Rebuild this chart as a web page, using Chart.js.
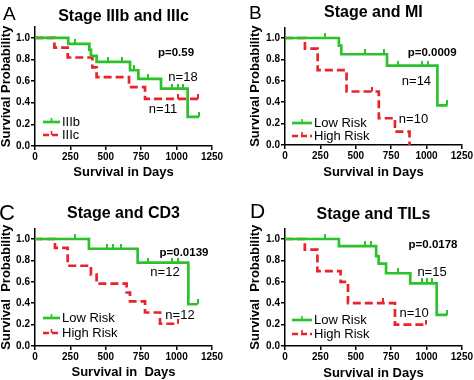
<!DOCTYPE html>
<html><head><meta charset="utf-8">
<script src="https://cdn.jsdelivr.net/npm/chart.js@4/dist/chart.umd.min.js"></script>
<style>
body{margin:0;background:#fff;width:474px;height:380px;overflow:hidden;position:relative}
.p{position:absolute;width:237px;height:190px}
canvas{display:block}
</style></head><body>
<div class="p" style="left:0;top:0"><canvas id="cA" width="237" height="190"></canvas></div>
<div class="p" style="left:237px;top:0"><canvas id="cB" width="237" height="190"></canvas></div>
<div class="p" style="left:0;top:190px"><canvas id="cC" width="237" height="190"></canvas></div>
<div class="p" style="left:237px;top:190px"><canvas id="cD" width="237" height="190"></canvas></div>
<script>
// ---------- data ----------
const xTickValues = [0, 250, 500, 750, 1000, 1250];
const yTickValues = [0, 0.2, 0.4, 0.6, 0.8, 1.0];

// Panel A: Stage IIIb and IIIc
const aGreenTimes = [0, 235, 282, 384, 395, 435, 518, 612, 671, 700, 730, 800, 890, 965, 1012, 1047, 1078, 1158];
const aGreenSurv  = [1, 0.944, 0.944, 0.889, 0.833, 0.778, 0.778, 0.778, 0.70, 0.70, 0.62, 0.62, 0.53, 0.53, 0.53, 0.53, 0.27, 0.27];
const aGreenCens  = [0, 0, 1, 0, 0, 0, 1, 1, 0, 1, 0, 1, 0, 1, 1, 1, 0, 1];
const aRedTimes = [0, 137, 231, 405, 435, 664, 777, 1012, 1153];
const aRedSurv  = [1, 0.909, 0.818, 0.727, 0.636, 0.545, 0.436, 0.436, 0.436];
const aRedCens  = [0, 0, 0, 0, 0, 0, 0, 1, 1];

// Panel B: Stage and MI
const bGreenTimes = [0, 282, 381, 398, 562, 702, 721, 800, 965, 1012, 1077, 1148];
const bGreenSurv  = [1, 1, 0.929, 0.848, 0.848, 0.848, 0.742, 0.742, 0.742, 0.742, 0.371, 0.371];
const bGreenCens  = [0, 1, 0, 0, 1, 1, 0, 1, 1, 1, 0, 1];
const bRedTimes = [0, 141, 231, 435, 617, 663, 777, 880];
const bRedSurv  = [1, 0.9, 0.7, 0.5, 0.5, 0.25, 0.125, 0];
const bRedCens  = [0, 0, 0, 0, 1, 0, 0, 0];

// Panel C: Stage and CD3
const cGreenTimes = [0, 282, 381, 506, 553, 607, 725, 800, 965, 1012, 1083, 1148];
const cGreenSurv  = [1, 1, 0.909, 0.909, 0.909, 0.909, 0.779, 0.779, 0.779, 0.779, 0.39, 0.39];
const cGreenCens  = [0, 1, 0, 1, 1, 1, 0, 1, 1, 1, 0, 1];
const cRedTimes = [0, 141, 231, 395, 435, 647, 671, 777, 883, 1012];
const cRedSurv  = [1, 0.917, 0.75, 0.667, 0.583, 0.5, 0.417, 0.313, 0.208, 0.208];
const cRedCens  = [0, 0, 0, 0, 0, 0, 0, 0, 0, 1];

// Panel D: Stage and TILs
const dGreenTimes = [0, 281, 381, 562, 608, 644, 662, 714, 796, 885, 971, 1006, 1041, 1072, 1147];
const dGreenSurv  = [1, 1, 0.933, 0.933, 0.933, 0.84, 0.77, 0.68, 0.68, 0.586, 0.586, 0.586, 0.586, 0.29, 0.29];
const dGreenCens  = [0, 1, 0, 1, 1, 0, 0, 0, 1, 0, 1, 1, 1, 0, 1];
const dRedTimes = [0, 140, 229, 393, 445, 690, 777, 997];
const dRedSurv  = [1, 0.9, 0.7, 0.6, 0.4, 0.4, 0.2, 0.2];
const dRedCens  = [0, 0, 0, 0, 0, 1, 0, 1];

// ---------- drawing ----------
const FONT = "'Liberation Sans', Arial, Helvetica, sans-serif";
Chart.defaults.font.family = FONT;
Chart.defaults.color = '#000';
const GREEN = '#2cc22c', RED = '#e8232a';

// upward censor tick used as point style
function tickImage(color) {
  const c = document.createElement('canvas');
  c.width = 2; c.height = 10;
  const g = c.getContext('2d');
  g.fillStyle = color;
  g.fillRect(0, 0, 2, 5);
  return c;
}
const tickImg = { [GREEN]: tickImage(GREEN), [RED]: tickImage(RED) };

function ds(label, times, surv, cens, color, dash) {
  return {
    label, data: times.map((t, i) => ({x: t, y: surv[i]})),
    borderColor: color, backgroundColor: color, borderWidth: 2.7, borderDash: dash,
    stepped: 'before', fill: false,
    pointRadius: cens.map(c => c ? 3 : 0), pointStyle: tickImg[color],
    pointHoverRadius: 0
  };
}

const panelPlugin = {
  id: 'panel',
  afterDraw(chart, args, o) {
    const ctx = chart.ctx, ca = chart.chartArea;
    ctx.save();
    ctx.fillStyle = '#000';
    ctx.textBaseline = 'alphabetic';
    ctx.textAlign = 'left';
    ctx.font = `${o.letterSize}px ${FONT}`;
    ctx.fillText(o.letter, o.letterX, o.letterY);
    ctx.textAlign = 'center';
    ctx.font = `bold 16px ${FONT}`;
    ctx.fillText(o.title, (ca.left + ca.right) / 2, o.titleY);
    // legend
    chart.data.datasets.forEach((d, i) => {
      const y = o.legendY + i * o.legendGap;
      ctx.strokeStyle = d.borderColor;
      ctx.lineWidth = 2.7;
      ctx.setLineDash(d.borderDash.length ? [6, 3] : []);
      ctx.beginPath(); ctx.moveTo(o.legendX, y); ctx.lineTo(o.legendX + o.legendLen, y); ctx.stroke();
      ctx.setLineDash([]);
      ctx.lineWidth = 1.6;
      const mx = o.legendX + o.legendLen / 2;
      ctx.beginPath(); ctx.moveTo(mx, y - 4); ctx.lineTo(mx, y); ctx.stroke();
      ctx.font = `13px ${FONT}`;
      ctx.textAlign = 'left'; ctx.textBaseline = 'middle';
      ctx.fillText(d.label, o.legendX + o.legendLen + 2, y + 0.5);
    });
    // notes in data coordinates
    const xs = chart.scales.x, ys = chart.scales.y;
    o.notes.forEach(n => {
      ctx.font = n.bold ? `bold 11.5px ${FONT}` : `13px ${FONT}`;
      ctx.textAlign = 'center'; ctx.textBaseline = 'middle';
      ctx.fillText(n.text, xs.getPixelForValue(n.x), ys.getPixelForValue(n.y));
    });
    ctx.restore();
  }
};

function makeChart(id, p) {
  const L = p.area[0], T = p.area[1], R = p.area[2], B = p.area[3];
  return new Chart(document.getElementById(id), {
    type: 'line',
    data: { datasets: p.datasets },
    plugins: [panelPlugin],
    options: {
      responsive: false, animation: false, events: [],
      layout: { padding: { left: 0, top: T, right: 237 - R, bottom: 0 } },
      plugins: { legend: { display: false }, tooltip: { enabled: false }, title: { display: false }, panel: p.panel },
      scales: {
        x: {
          type: 'linear', min: 0, max: 1250,
          afterBuildTicks: s => { s.ticks = xTickValues.map(v => ({value: v})); },
          afterFit: s => { s.height = 190 - B; },
          ticks: { font: { size: 10, weight: 'bold' }, padding: 1, maxRotation: 0, autoSkip: false, color: '#000', callback: v => String(v) },
          grid: { drawOnChartArea: false, drawTicks: true, tickLength: 4, color: '#000', lineWidth: 1.5 },
          border: { display: true, color: '#000', width: 1.5 },
          title: { display: true, text: p.xTitle, font: { size: 13, weight: 'bold', lineHeight: 1 }, padding: { top: 0, bottom: p.xTitlePad }, color: '#000' }
        },
        y: {
          type: 'linear', min: 0, max: 1.1,
          afterBuildTicks: s => { s.ticks = yTickValues.map(v => ({value: v})); },
          afterFit: s => { s.width = L; },
          ticks: { font: { size: 10, weight: 'bold' }, padding: 1, color: '#000', callback: v => Number(v).toFixed(1) },
          grid: { drawOnChartArea: false, drawTicks: true, tickLength: 4, color: '#000', lineWidth: 1.5 },
          border: { display: true, color: '#000', width: 1.5 },
          title: { display: true, text: p.yTitle, font: { size: 13, weight: 'bold', lineHeight: 1 }, padding: { top: p.yTitlePad, bottom: 0 }, color: '#000' }
        }
      }
    }
  });
}

makeChart('cA', {
  area: [35, 27, 212, 146],
  datasets: [ds('IIIb', aGreenTimes, aGreenSurv, aGreenCens, GREEN, []), ds('IIIc', aRedTimes, aRedSurv, aRedCens, RED, [8, 4])],
  xTitle: 'Survival in Days', xTitlePad: 11, yTitle: 'Survival Probability', yTitlePad: 0,
  panel: { letter: 'A', letterSize: 19, letterX: 3, letterY: 20, title: 'Stage IIIb and IIIc', titleY: 21,
    legendX: 43, legendY: 122, legendGap: 13, legendLen: 17,
    notes: [{text: 'p=0.59', x: 996, y: 0.859, bold: true}, {text: 'n=18', x: 1045, y: 0.637}, {text: 'n=11', x: 904, y: 0.342}] }
});
makeChart('cB', {
  area: [48, 27.3, 227, 145],
  datasets: [ds('Low Risk', bGreenTimes, bGreenSurv, bGreenCens, GREEN, []), ds('High Risk', bRedTimes, bRedSurv, bRedCens, RED, [8, 4])],
  xTitle: 'Survival in Days', xTitlePad: 11, yTitle: 'Survival Probability', yTitlePad: 11.5,
  panel: { letter: 'B', letterSize: 19, letterX: 12, letterY: 19, title: 'Stage and MI', titleY: 17,
    legendX: 55, legendY: 123, legendGap: 13, legendLen: 20,
    notes: [{text: 'p=0.0009', x: 1040, y: 0.86, bold: true}, {text: 'n=14', x: 929, y: 0.598}, {text: 'n=10', x: 908, y: 0.243}] }
});
makeChart('cC', {
  area: [35, 38.3, 212, 156],
  datasets: [ds('Low Risk', cGreenTimes, cGreenSurv, cGreenCens, GREEN, []), ds('High Risk', cRedTimes, cRedSurv, cRedCens, RED, [8, 4])],
  xTitle: 'Survival in  Days', xTitlePad: 1, yTitle: 'Survival  Probability', yTitlePad: 0,
  panel: { letter: 'C', letterSize: 22, letterX: -1, letterY: 30, title: 'Stage and CD3', titleY: 28,
    legendX: 43, legendY: 128, legendGap: 15, legendLen: 17,
    notes: [{text: 'p=0.0139', x: 1052, y: 0.869, bold: true}, {text: 'n=12', x: 918, y: 0.692}, {text: 'n=12', x: 1024, y: 0.29}] }
});
makeChart('cD', {
  area: [48, 38.3, 226, 156],
  datasets: [ds('Low Risk', dGreenTimes, dGreenSurv, dGreenCens, GREEN, []), ds('High Risk', dRedTimes, dRedSurv, dRedCens, RED, [8, 4])],
  xTitle: 'Survival in Days', xTitlePad: 0, yTitle: 'Survival  Probability', yTitlePad: 11.5,
  panel: { letter: 'D', letterSize: 21, letterX: 13, letterY: 28, title: 'Stage and TILs', titleY: 29,
    legendX: 55, legendY: 130, legendGap: 14, legendLen: 20,
    notes: [{text: 'p=0.0178', x: 1046, y: 0.944, bold: true}, {text: 'n=15', x: 1039, y: 0.69}, {text: 'n=10', x: 913, y: 0.30}] }
});
</script>
</body></html>
